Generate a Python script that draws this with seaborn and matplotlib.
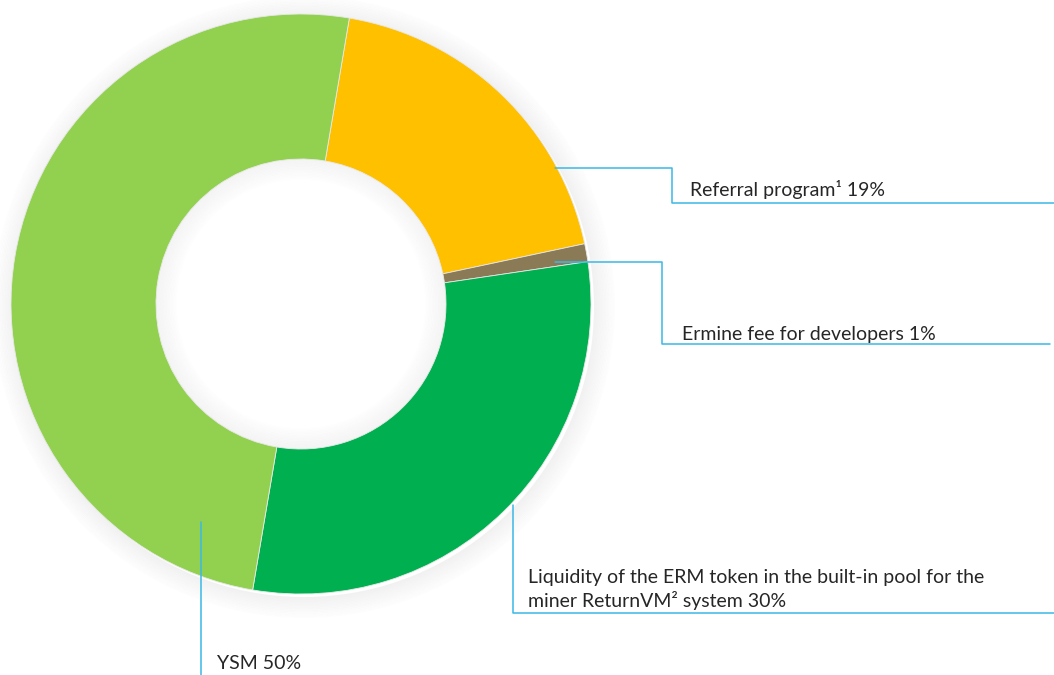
import seaborn as sns
import matplotlib.pyplot as plt
from matplotlib.patches import Wedge

sns.set_style('white')
plt.rcParams['font.family'] = ['Lato', 'DejaVu Sans']

labels = ['Referral program¹ 19%', 'Ermine fee for developers 1%',
          'Liquidity of the ERM token in the built-in pool for the\nminer ReturnVM² system 30%',
          'YSM 50%']
shares = [19, 1, 30, 50]
colors = ['#FFC000', '#8A7A55', '#00B050', '#92D050']
line_color = '#3BB8E6'

fig = plt.figure(figsize=(10.54, 6.75), dpi=100)
ax = fig.add_axes([0, 0, 1, 1])

cx, cy, r = 301, 371, 290
r_in = r * 0.5

# soft shadow outside the ring and inside the hole
for i in range(14):
    a = 0.10 * (1 - i / 14)
    ax.add_patch(Wedge((cx + 3, cy - 3), r + 1.5 * (i + 1), 0, 360, width=1.5,
                       color='#7a7a7a', alpha=a, lw=0, zorder=1))
    ax.add_patch(Wedge((cx, cy), r_in - 1.5 * i, 0, 360, width=1.5,
                       color='#7a7a7a', alpha=a * 0.8, lw=0, zorder=1))

ax.pie(shares, colors=colors, startangle=80.4, counterclock=False,
       center=(cx, cy), radius=r, frame=True,
       wedgeprops=dict(width=r - r_in, linewidth=0.6, edgecolor='#e8e8e8'))
ax.set_xlim(0, 1054)
ax.set_ylim(0, 675)
ax.set_aspect('equal')
ax.axis('off')

H = 675
lw = 1.1
fs = 14
tc = '#262626'
# Referral
ax.plot([555, 672, 672, 1054], [H - 168, H - 168, H - 203, H - 203], color=line_color, lw=lw, zorder=5)
ax.text(690, H - 196, labels[0], fontsize=fs, color=tc, va='baseline')
# Ermine
ax.plot([555, 662, 662, 1050], [H - 262, H - 262, H - 344, H - 344], color=line_color, lw=lw, zorder=5)
ax.text(682, H - 340, labels[1], fontsize=fs, color=tc, va='baseline')
# Liquidity
ax.plot([513, 513, 1054], [H - 505, H - 613, H - 613], color=line_color, lw=lw, zorder=5)
ax.text(528, H - 607, labels[2], fontsize=fs, color=tc, va='baseline',
        linespacing=1.3)
# YSM
ax.plot([201, 201], [H - 522, 0], color=line_color, lw=lw, zorder=5)
ax.text(217, H - 669, labels[3], fontsize=fs, color=tc, va='baseline')

fig.savefig('out.png', dpi=100)
